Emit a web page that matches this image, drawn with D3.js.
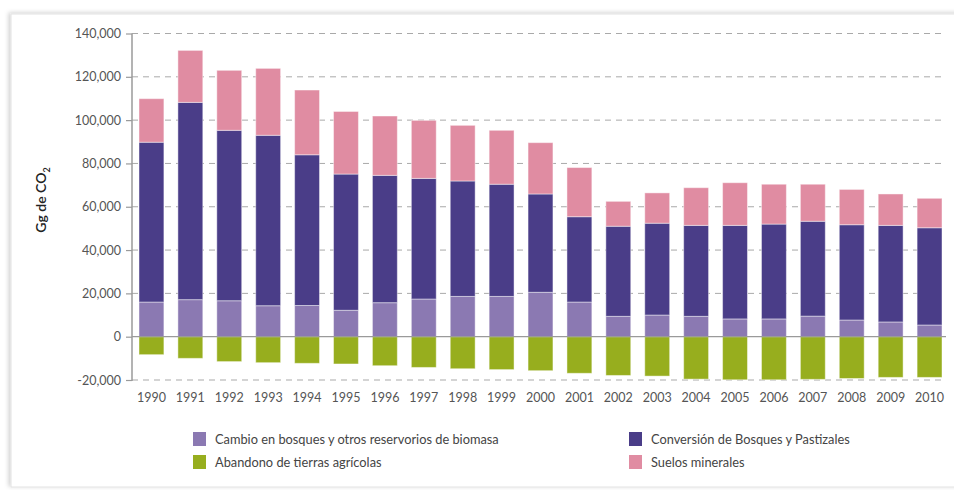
<!DOCTYPE html>
<html lang="es">
<head>
<meta charset="utf-8">
<title>Emisiones USCUSS</title>
<style>
  body { margin: 0; background: #fff; }
  svg text { font-family: Lato, "Open Sans", sans-serif; fill: #555; }
  .axis text { font-size: 12.5px; }
  .legend text { font-size: 12.8px; fill: #444; }
</style>
</head>
<body>
<svg id="chart" width="954" height="490"></svg>
<script src="https://cdn.jsdelivr.net/npm/d3@7"></script>
<script>
// años
var years = ['1990','1991','1992','1993','1994','1995','1996','1997','1998','1999','2000',
             '2001','2002','2003','2004','2005','2006','2007','2008','2009','2010'];

// Gg de CO2 por categoría
var cambio = [16000, 17100, 16600, 14300, 14400, 12200, 15700, 17400, 18600, 18600, 20500,
              16000, 9400, 10000, 9400, 8200, 8200, 9500, 7700, 6800, 5400];
var conversion = [73800, 91100, 78700, 78700, 69600, 62900, 58800, 55700, 53300, 51800, 45400,
                  39400, 41600, 42400, 42000, 43200, 43800, 43800, 44000, 44600, 44900];
var suelos = [20100, 24000, 27700, 30900, 29900, 28900, 27400, 26800, 25700, 24900, 23700,
              22700, 11500, 14000, 17400, 19700, 18400, 17100, 16300, 14500, 13600];
var abandono = [-8300, -10000, -11500, -12000, -12300, -12600, -13400, -14200, -14800, -15200, -15700,
                -16900, -17900, -18200, -19600, -19900, -19900, -19700, -19300, -18800, -18800];

var yTicks = [-20000, 0, 20000, 40000, 60000, 80000, 100000, 120000, 140000];

var series = [
  {key: 'cambio', name: 'Cambio en bosques y otros reservorios de biomasa', color: '#8b79b2', values: cambio},
  {key: 'conversion', name: 'Conversión de Bosques y Pastizales', color: '#4a3d88', values: conversion},
  {key: 'suelos', name: 'Suelos minerales', color: '#e08ca2', values: suelos},
  {key: 'abandono', name: 'Abandono de tierras agrícolas', color: '#97ae1e', values: abandono}
];

var svg = d3.select('#chart');

// marco con sombra
var defs = svg.append('defs');
var f = defs.append('filter').attr('id', 'sombra')
    .attr('x', '-5%').attr('y', '-5%').attr('width', '110%').attr('height', '110%');
f.append('feDropShadow').attr('dx', -2).attr('dy', -1).attr('stdDeviation', 2)
    .attr('flood-color', '#000').attr('flood-opacity', 0.18);

svg.append('rect')
    .attr('x', 11).attr('y', 14).attr('width', 960).attr('height', 473)
    .attr('fill', '#fff').attr('stroke', '#e2e2e2')
    .attr('filter', 'url(#sombra)');

// tabla para d3.stack
var table = years.map(function(y, i) {
  var row = {year: y};
  series.forEach(function(s) { row[s.key] = s.values[i]; });
  return row;
});

var stack = d3.stack()
    .keys(series.map(function(s) { return s.key; }))
    .offset(d3.stackOffsetDiverging);
var stacked = stack(table);

var x = d3.scaleBand()
    .domain(years)
    .range([132, 949])
    .paddingInner(0.36)
    .paddingOuter(0.18);

var y = d3.scaleLinear()
    .domain([-20000, 140000])
    .range([380, 33.5]);

// rejilla
svg.append('g').attr('class', 'grid')
  .selectAll('line')
  .data(yTicks.filter(function(t) { return t !== 0; }))
  .enter().append('line')
    .attr('x1', 132).attr('x2', 946)
    .attr('y1', function(d) { return y(d); })
    .attr('y2', function(d) { return y(d); })
    .attr('stroke', '#a9a9a9')
    .attr('stroke-width', 1)
    .attr('stroke-dasharray', '6,5');

// barras
var color = {};
series.forEach(function(s) { color[s.key] = s.color; });

svg.append('g').selectAll('g')
  .data(stacked)
  .enter().append('g')
    .attr('fill', function(d) { return color[d.key]; })
  .selectAll('rect')
  .data(function(d) { return d; })
  .enter().append('rect')
    .attr('x', function(d) { return x(d.data.year); })
    .attr('width', x.bandwidth())
    .attr('y', function(d) { return y(Math.max(d[0], d[1])); })
    .attr('height', function(d) { return Math.abs(y(d[0]) - y(d[1])); })
    .attr('stroke', '#fff')
    .attr('stroke-opacity', 0.45)
    .attr('stroke-width', 1);

// línea cero
svg.append('line')
    .attr('x1', 132).attr('x2', 946)
    .attr('y1', y(0)).attr('y2', y(0))
    .attr('stroke', '#9a9a9a').attr('stroke-width', 1.2);

// eje y
var yAxis = svg.append('g').attr('class', 'axis')
    .attr('transform', 'translate(132,0)')
    .call(d3.axisLeft(y).tickValues(yTicks).tickSize(6).tickPadding(5)
      .tickFormat(function(d) { return d3.format(',')(d).replace('−', '-'); }));
yAxis.select('.domain').attr('stroke', '#9a9a9a').attr('stroke-width', 1.5)
    .attr('d', 'M0,' + y(140000) + 'V' + (y(-20000) + 1));
yAxis.selectAll('.tick line').attr('stroke', '#9a9a9a').attr('stroke-width', 1.2);

// eje x
var xAxis = svg.append('g').attr('class', 'axis')
    .attr('transform', 'translate(0,' + y(-20000) + ')')
    .call(d3.axisBottom(x).tickSize(0).tickPadding(13));
xAxis.select('.domain').remove();

// título eje y
var yt = svg.append('text')
    .attr('transform', 'translate(46,200) rotate(-90)')
    .attr('text-anchor', 'middle')
    .style('font-size', '14px')
    .style('font-weight', 600)
    .style('fill', '#222');
yt.append('tspan').text('Gg de CO');
yt.append('tspan').text('2').attr('dy', 4).style('font-size', '9px');

// leyenda
var legendItems = [
  {s: series[0], x: 193, y: 432},
  {s: series[3], x: 193, y: 455},
  {s: series[1], x: 629, y: 432},
  {s: series[2], x: 629, y: 455}
];
var lg = svg.append('g').attr('class', 'legend')
  .selectAll('g')
  .data(legendItems)
  .enter().append('g')
    .attr('transform', function(d) { return 'translate(' + d.x + ',' + d.y + ')'; });
lg.append('rect')
    .attr('width', 13).attr('height', 14)
    .attr('fill', function(d) { return d.s.color; });
lg.append('text')
    .attr('x', 22).attr('y', 12)
    .text(function(d) { return d.s.name; });
</script>
</body>
</html>
